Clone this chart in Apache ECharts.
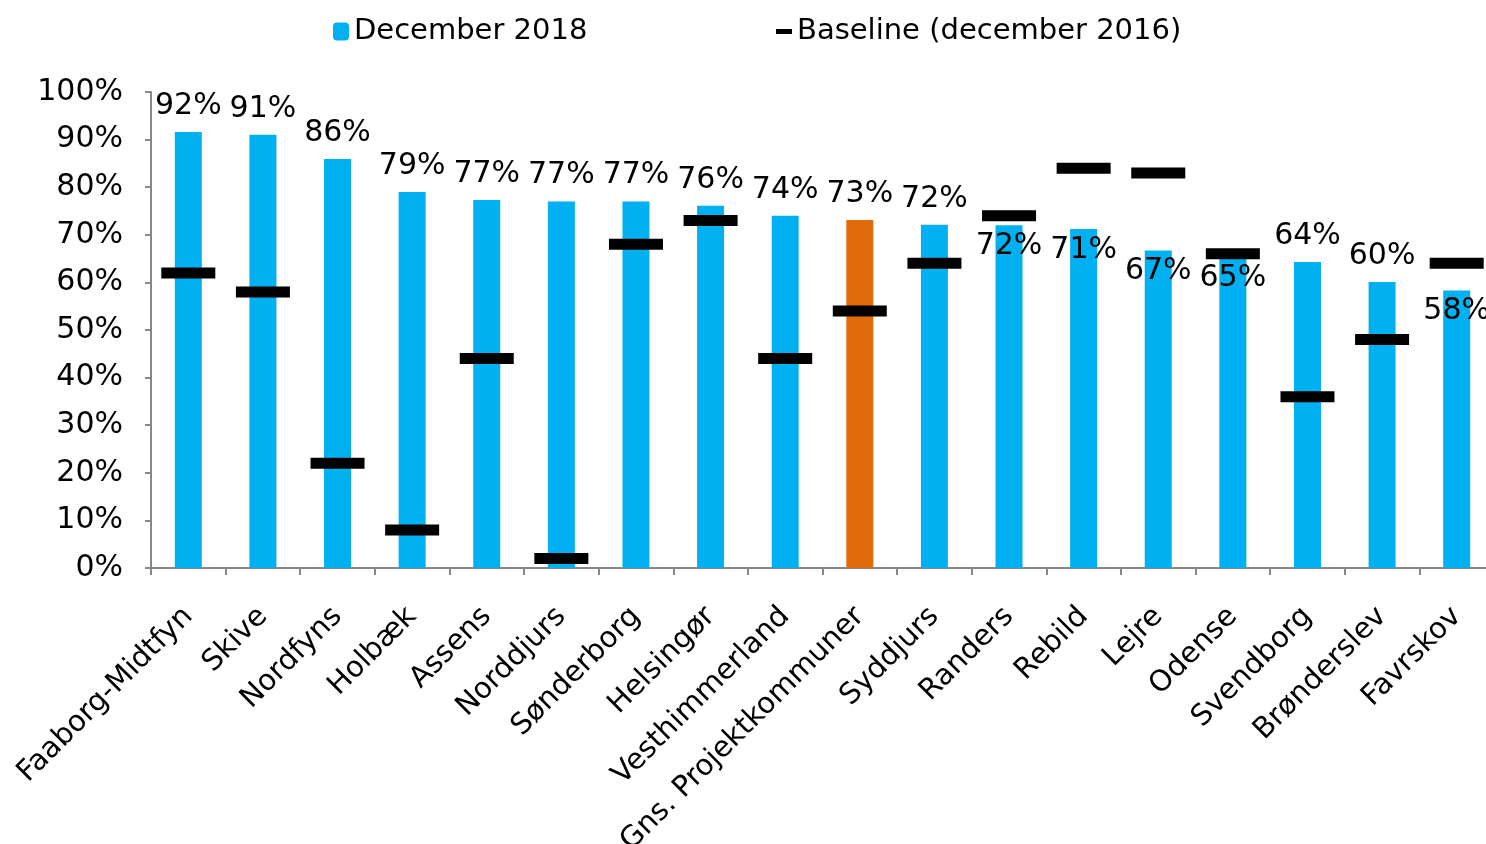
<!DOCTYPE html>
<html>
<head>
<meta charset="utf-8">
<script src="https://cdn.jsdelivr.net/npm/echarts@6/dist/echarts.min.js"></script>
<style>
html,body{margin:0;padding:0;background:#fff;}
#chart{width:1486px;height:844px;}
</style>
</head>
<body>
<div id="chart"></div>
<script>
var categories = ['Faaborg-Midtfyn','Skive','Nordfyns','Holbæk','Assens','Norddjurs','Sønderborg','Helsingør','Vesthimmerland','Gns. Projektkommuner','Syddjurs','Randers','Rebild','Lejre','Odense','Svendborg','Brønderslev','Favrskov'];
var dec2018 = [91.6, 91.0, 85.9, 79.0, 77.3, 77.0, 77.0, 76.1, 74.0, 73.1, 72.1, 72.0, 71.2, 66.7, 65.2, 64.3, 60.1, 58.3];
var baseline2016 = [62, 58, 22, 8, 44, 2, 68, 73, 44, 54, 64, 74, 84, 83, 66, 36, 48, 64];
var yTicks = [0, 10, 20, 30, 40, 50, 60, 70, 80, 90, 100];

var highlightIndex = 9;
var insideLabelIdx = [11, 12, 13, 14, 17];
var FONT = 'DejaVu Sans, Verdana, sans-serif';

var barData = dec2018.map(function (v, i) {
  var d = { value: v };
  if (i === highlightIndex) d.itemStyle = { color: '#E36C0A' };
  if (insideLabelIdx.indexOf(i) >= 0) d.label = { position: 'insideTop', distance: 6 };
  return d;
});

var chart = echarts.init(document.getElementById('chart'));
chart.setOption({
  animation: false,
  backgroundColor: '#ffffff',
  textStyle: { fontFamily: FONT },
  legend: [
    {
      data: ['December 2018'],
      left: 328, top: 12,
      itemWidth: 16, itemHeight: 18, itemGap: 0,
      textStyle: { fontSize: 29, color: '#000', fontFamily: FONT }
    },
    {
      data: [{ name: 'Baseline (december 2016)', icon: 'rect' }],
      left: 771, top: 12,
      itemWidth: 16, itemHeight: 5,
      textStyle: { fontSize: 29, color: '#000', fontFamily: FONT }
    }
  ],
  grid: { left: 151, width: 1343, top: 92, bottom: 276, containLabel: false, outerBoundsMode: 'none' },
  xAxis: {
    type: 'category',
    data: categories,
    axisLine: { lineStyle: { color: '#888', width: 2 } },
    axisTick: { show: true, length: 7, alignWithLabel: false, lineStyle: { color: '#888', width: 2 } },
    axisLabel: { rotate: 45, interval: 0, fontSize: 29, color: '#000', margin: 44, fontFamily: FONT }
  },
  yAxis: {
    type: 'value',
    min: yTicks[0], max: yTicks[yTicks.length - 1], interval: 10,
    splitLine: { show: false },
    axisLine: { show: true, lineStyle: { color: '#888', width: 2 } },
    axisTick: { show: true, length: 6, lineStyle: { color: '#888', width: 2 } },
    axisLabel: { fontSize: 30, color: '#000', margin: 28, fontFamily: FONT, formatter: '{value}%' }
  },
  series: [
    {
      name: 'December 2018',
      type: 'bar',
      data: barData,
      barWidth: 27,
      itemStyle: { color: '#00B0F0' },
      label: {
        show: true, position: 'top', distance: 11,
        fontSize: 30, color: '#000', fontFamily: FONT,
        formatter: function (p) { return Math.round(p.value) + '%'; }
      },
      z: 2
    },
    {
      name: 'Baseline (december 2016)',
      type: 'scatter',
      data: baseline2016,
      symbol: 'rect',
      symbolSize: [54, 11],
      itemStyle: { color: '#000', opacity: 1 },
      emphasis: { disabled: true },
      z: 3
    }
  ]
});
</script>
</body>
</html>
